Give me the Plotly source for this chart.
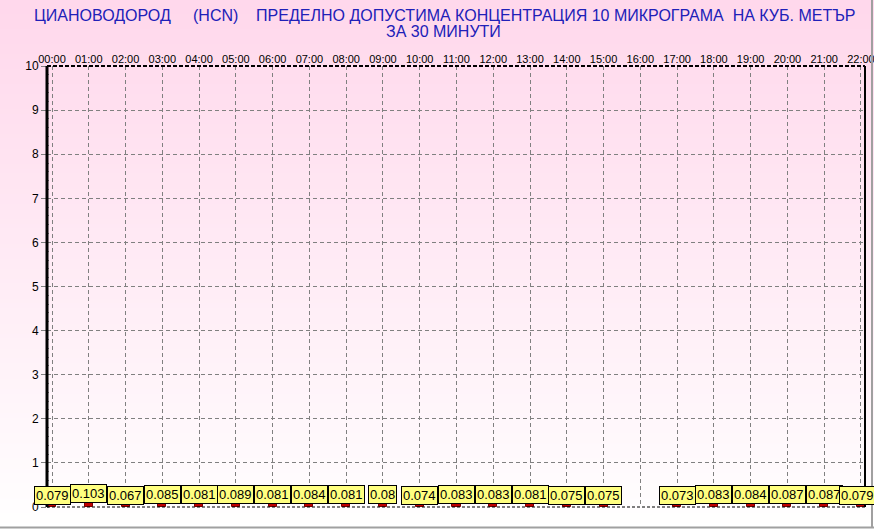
import plotly.graph_objects as go

# hourly readings (hour of day -> value), 16:00 missing
hours = [0, 1, 2, 3, 4, 5, 6, 7, 8, 9, 10, 11, 12, 13, 14, 15, 17, 18, 19, 20, 21, 22]
values = [0.079, 0.103, 0.067, 0.085, 0.081, 0.089, 0.081, 0.084, 0.081, 0.08, 0.074,
          0.083, 0.083, 0.081, 0.075, 0.075, 0.073, 0.083, 0.084, 0.087, 0.087, 0.079]
tick_hours = list(range(23))
tick_labels = ["%02d:00" % h for h in tick_hours]
y_ticks = list(range(11))

NB = "\u00a0"
title_line1 = ("ЦИАНОВОДОРОД" + NB * 5 + "(HCN)" + NB * 4 + "ПРЕДЕЛНО ДОПУСТИМА КОНЦЕНТРАЦИЯ 10 МИКРОГРАМА"
               + NB * 2 + "НА КУБ. МЕТЪР")
title_line2 = "ЗА 30 МИНУТИ"

W, H = 874, 529
ML, MR, MT, MB = 47, 9, 66, 22
pw = W - ML - MR
ph = H - MT - MB


def py(y_px):
    # pixel row (from top of image) -> paper y
    return (H - MB - y_px) / ph


def px(x_px):
    return (x_px - ML) / pw


fig = go.Figure()

fig.add_trace(go.Bar(
    x=hours, y=values, width=0.22,
    marker=dict(color="#C00000", line=dict(color="#7A0000", width=1)),
    showlegend=False, hoverinfo="x+y",
))

# gradient background (pink top -> white bottom) made of thin stripes
shapes = []
n = 106
for i in range(n):
    t = i / (n - 1)
    g = int(216 + (255 - 216) * t)
    b = int(236 + (255 - 236) * t)
    shapes.append(dict(
        type="rect", xref="paper", yref="paper", layer="below",
        x0=px(0), x1=px(W),
        y0=py((i + 1) * H / n), y1=py(i * H / n) + 0.002,
        fillcolor="rgb(255,%d,%d)" % (g, b), line=dict(width=0),
    ))

# plot frame
shapes += [
    dict(type="line", xref="paper", yref="paper", x0=0, x1=1, y0=1, y1=1,
         line=dict(color="black", width=2, dash="4px,2px")),
    dict(type="line", xref="paper", yref="paper", x0=0, x1=1, y0=0, y1=0,
         line=dict(color="black", width=1, dash="3px,2px")),
    dict(type="line", xref="paper", yref="paper", x0=1, x1=1, y0=0, y1=1,
         line=dict(color="black", width=2)),
    dict(type="line", xref="paper", yref="paper", x0=0, x1=0, y0=0, y1=1,
         line=dict(color="black", width=3)),
    # outer window edges
    dict(type="line", xref="paper", yref="paper", x0=px(0), x1=px(W),
         y0=py(527.5), y1=py(527.5), line=dict(color="#A0A0A0", width=2)),
    dict(type="line", xref="paper", yref="paper", x0=px(872), x1=px(872),
         y0=py(528), y1=py(0), line=dict(color="#A0A0A0", width=2)),
]

annotations = [
    dict(x=px(445), y=py(15), xref="paper", yref="paper", text=title_line1, showarrow=False,
         xanchor="center", yanchor="middle",
         font=dict(family="Arial, Liberation Sans", size=16, color="#2020B8")),
    dict(x=px(443), y=py(32), xref="paper", yref="paper", text=title_line2, showarrow=False,
         xanchor="center", yanchor="middle",
         font=dict(family="Arial, Liberation Sans", size=16, color="#2020B8")),
]
for h, v in zip(hours, values):
    annotations.append(dict(
        x=h, y=v, xref="x", yref="y", text=str(v), showarrow=False,
        yanchor="bottom", yshift=-1, xshift=-3 if h == 22 else 0,
        font=dict(family="Arial, Liberation Sans", size=13, color="black"),
        bgcolor="#FFFF80", bordercolor="black", borderwidth=1, borderpad=1,
    ))

fig.update_layout(
    width=W, height=H,
    margin=dict(l=ML, r=MR, t=MT, b=MB, autoexpand=False),
    paper_bgcolor="white", plot_bgcolor="rgba(0,0,0,0)",
    font=dict(family="Arial, Liberation Sans", color="black"),
    shapes=shapes,
    annotations=annotations,
    bargap=0,
    xaxis=dict(
        range=[-0.136, 22.11], side="top", automargin=False,
        tickmode="array", tickvals=tick_hours, ticktext=tick_labels,
        tickfont=dict(size=11), ticks="", ticklen=0, ticklabeloverflow="allow",
        showgrid=True, gridcolor="#808080", gridwidth=1, griddash="4px,3px",
        showline=False, zeroline=False, fixedrange=True,
    ),
    yaxis=dict(
        range=[0, 10], tickmode="array", tickvals=y_ticks, automargin=False,
        tickfont=dict(size=12), ticks="outside", ticklen=5, tickcolor="#808080",
        showgrid=True, gridcolor="#808080", gridwidth=1, griddash="4px,3px",
        showline=False, zeroline=False, fixedrange=True,
        minor=dict(dtick=0.2, ticks="inside", ticklen=2, tickcolor="#808080", showgrid=False),
    ),
)

fig.write_html("out.html", config={"displayModeBar": False},
               post_script="document.body.style.margin='0';document.body.style.overflow='hidden';")
